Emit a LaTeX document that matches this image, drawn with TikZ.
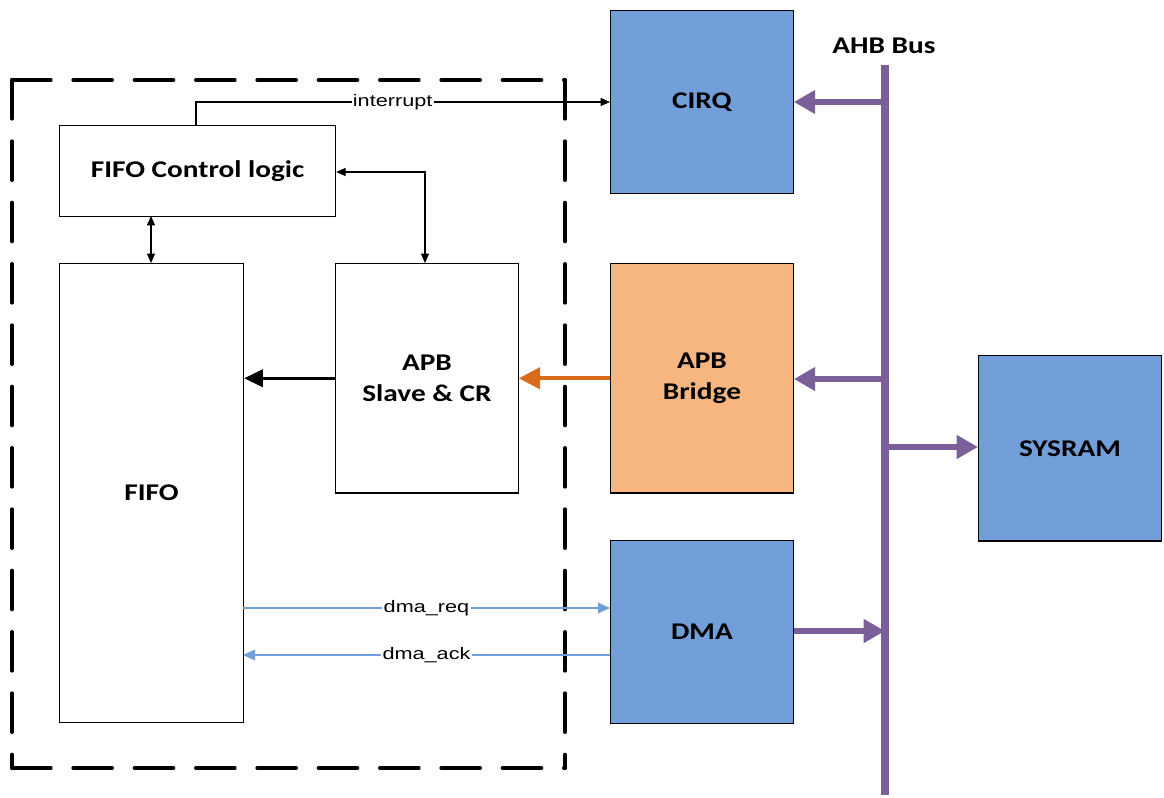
\documentclass[tikz,border=0pt]{standalone}
\usepackage{fontspec}
\setmainfont{Carlito}[FakeStretch=1.22]
\newfontfamily\lab{Liberation Sans}[FakeStretch=1.3]
\usetikzlibrary{arrows.meta}
\definecolor{blk}{RGB}{114,159,217}
\definecolor{org}{RGB}{247,181,128}
\definecolor{bus}{RGB}{123,95,153}
\definecolor{oarr}{RGB}{217,108,26}
\begin{document}
\begin{tikzpicture}[x=0.75pt,y=-0.75pt,
  box/.style={draw=black,line width=0.9pt,font=\fontsize{18}{21}\selectfont\bfseries,align=center},
  blue/.style={box,fill=blk},
  sig/.style={line width=0.8pt,-{Triangle[length=7pt,width=6pt]}},
  dsig/.style={line width=0.8pt,{Triangle[length=7pt,width=6pt]}-{Triangle[length=7pt,width=6pt]}},
  busarr/.style={draw=bus,line width=4pt,-{Triangle[length=16pt,width=17pt]}},
  slab/.style={fill=white,inner sep=1pt,font=\lab\fontsize{12.5}{14}\selectfont},
  dmaline/.style={draw=blk,line width=1pt,-{Triangle[length=9pt,width=8pt]}},
  dashbox/.style={line width=3pt,line cap=round,dash pattern=on 29pt off 17pt}
]
\useasboundingbox (0,0) rectangle (1164,797);
% dashed box
\coordinate (tl) at (12,80);
\coordinate (tr) at (565,80);
\coordinate (bl) at (12,768);
\coordinate (br) at (565,768);
\draw[dashbox] (tl) -- (tr);
\draw[dashbox] (tl) -- (bl);
\draw[dashbox] (tr) -- (br);
\draw[dashbox] (bl) -- (br);
% nodes
\node[box,minimum width=207pt,minimum height=68pt,anchor=north west] (ctrl) at (59,125) {FIFO Control logic};
\node[box,minimum width=138pt,minimum height=344pt,anchor=north west] (fifo) at (59,263) {FIFO};
\node[box,minimum width=137pt,minimum height=172pt,anchor=north west] (apbs) at (335,263) {APB\\[2pt]Slave \& CR};
\node[blue,minimum width=137pt,minimum height=137pt,anchor=north west] (cirq) at (610,10) {CIRQ};
\node[box,fill=org,minimum width=137pt,minimum height=172pt,anchor=north west] (apbb) at (610,263) {APB\\[2pt]Bridge};
\node[blue,minimum width=137pt,minimum height=137pt,anchor=north west] (dma) at (610,540) {DMA};
\node[blue,minimum width=137pt,minimum height=139pt,anchor=north west] (sysram) at (978,355) {SYSRAM};
% bus
\coordinate (bt) at (885,65);
\coordinate (bb) at (885,795);
\draw[bus,line width=6.5pt] (bt) -- (bb);
\node[font=\fontsize{18}{21}\selectfont\bfseries,anchor=south] (ahb) at (884,58) {AHB Bus};
\coordinate (b1) at (885,102);
\coordinate (b2) at (885,379);
\coordinate (b3) at (885,447);
\coordinate (b4) at (885,631);
\draw[busarr] (b1) -- (b1 -| cirq.east);
\draw[busarr] (b2) -- (b2 -| apbb.east);
\draw[busarr] (b3) -- (b3 -| sysram.west);
\draw[busarr] (b4 -| dma.east) -- (b4);
% orange
\draw[draw=oarr,line width=3pt,-{Triangle[length=16pt,width=16pt]}] (apbb.west) -- (apbs.east);
% black thick
\draw[line width=2.2pt,-{Triangle[length=14pt,width=13pt]}] (apbs.west) -- (apbs.west -| fifo.east);
% interrupt
\coordinate (i0) at (196,125);
\coordinate (i1) at (196,102);
\draw[sig] (i0) -- (i1) -- (i1 -| cirq.west) node[pos=0.475,slab] {interrupt};
% ctrl-fifo
\draw[dsig] (151,216) -- (151,263);
% ctrl-apbs
\coordinate (c1) at (425,172);
\draw[dsig] (ctrl.east |- c1) -- (c1) -- (apbs.north -| c1);
% dma
\coordinate (d1) at (243,608);
\coordinate (d2) at (243,655);
\draw[dmaline] (d1) -- (d1 -| dma.west) node[midway,slab] {dma\_req};
\draw[dmaline] (d2 -| dma.west) -- (d2) node[midway,slab] {dma\_ack};
\end{tikzpicture}
\end{document}
